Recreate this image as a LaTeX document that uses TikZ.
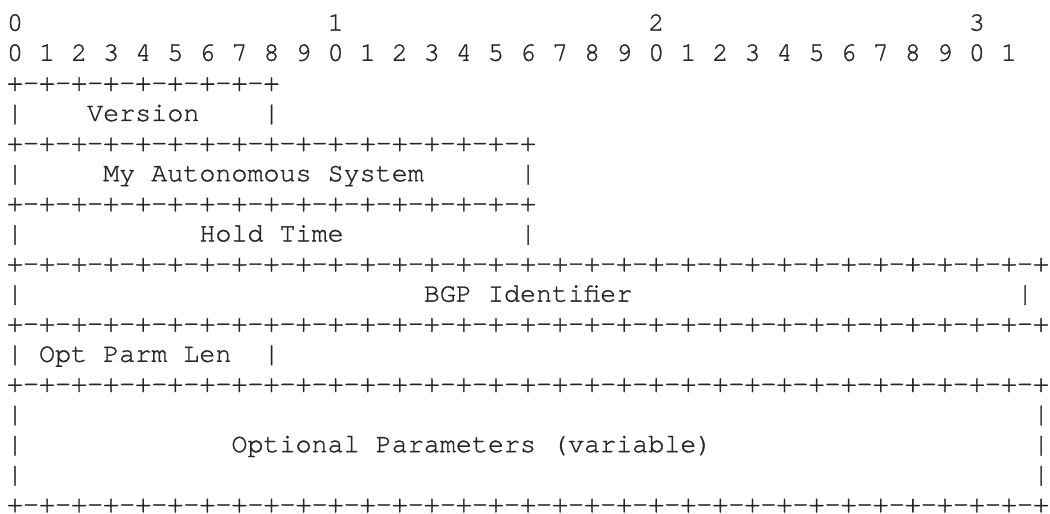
\documentclass[tikz,border=0pt]{standalone}
\usepackage{fontspec}
\setmonofont[FakeBold=1.2]{TeX Gyre Cursor}
\newcommand\gap[1]{\hspace*{#1\dimexpr 0.6em\relax}}
\definecolor{ink}{HTML}{262626}
\begin{document}
\begin{tikzpicture}[x=1pt,y=1pt,
  row/.style={anchor=base west, inner sep=0pt, outer sep=0pt,
    font=\ttfamily\fontsize{26.72}{30}\selectfont, text=ink}]
\useasboundingbox (0,0) rectangle (1050,514);
\def\ya{483.3}\def\dy{30.1}\def\xa{7}
\node[row] (l0)  at (\xa,{\ya-0*\dy})  {0\gap{19}1\gap{19}2\gap{19}3};
\node[row] (l1)  at (\xa,{\ya-1*\dy})  {0 1 2 3 4 5 6 7 8 9 0 1 2 3 4 5 6 7 8 9 0 1 2 3 4 5 6 7 8 9 0 1};
\node[row] (l2)  at (\xa,{\ya-2*\dy})  {+-+-+-+-+-+-+-+-+};
\node[row] (l3)  at (\xa,{\ya-3*\dy})  {|\gap{4}Version\gap{4}|};
\node[row] (l4)  at (\xa,{\ya-4*\dy})  {+-+-+-+-+-+-+-+-+-+-+-+-+-+-+-+-+};
\node[row] (l5)  at (\xa,{\ya-5*\dy})  {|\gap{5}My Autonomous System\gap{6}|};
\node[row] (l6)  at (\xa,{\ya-6*\dy})  {+-+-+-+-+-+-+-+-+-+-+-+-+-+-+-+-+};
\node[row] (l7)  at (\xa,{\ya-7*\dy})  {|\gap{11}Hold Time\gap{11}|};
\node[row] (l8)  at (\xa,{\ya-8*\dy})  {+-+-+-+-+-+-+-+-+-+-+-+-+-+-+-+-+-+-+-+-+-+-+-+-+-+-+-+-+-+-+-+-+};
\node[row] (l9)  at (\xa,{\ya-9*\dy})  {|\gap{25}BGP Identifier\gap{24}|};
\node[row] (l10) at (\xa,{\ya-10*\dy}) {+-+-+-+-+-+-+-+-+-+-+-+-+-+-+-+-+-+-+-+-+-+-+-+-+-+-+-+-+-+-+-+-+};
\node[row] (l11) at (\xa,{\ya-11*\dy}) {|\gap{1}Opt Parm Len\gap{2}|};
\node[row] (l12) at (\xa,{\ya-12*\dy}) {+-+-+-+-+-+-+-+-+-+-+-+-+-+-+-+-+-+-+-+-+-+-+-+-+-+-+-+-+-+-+-+-+};
\node[row] (l13) at (\xa,{\ya-13*\dy}) {|\gap{63}|};
\node[row] (l14) at (\xa,{\ya-14*\dy}) {|\gap{13}Optional Parameters (variable)\gap{20}|};
\node[row] (l15) at (\xa,{\ya-15*\dy}) {|\gap{63}|};
\node[row] (l16) at (\xa,{\ya-16*\dy}) {+-+-+-+-+-+-+-+-+-+-+-+-+-+-+-+-+-+-+-+-+-+-+-+-+-+-+-+-+-+-+-+-+};
\end{tikzpicture}
\end{document}
